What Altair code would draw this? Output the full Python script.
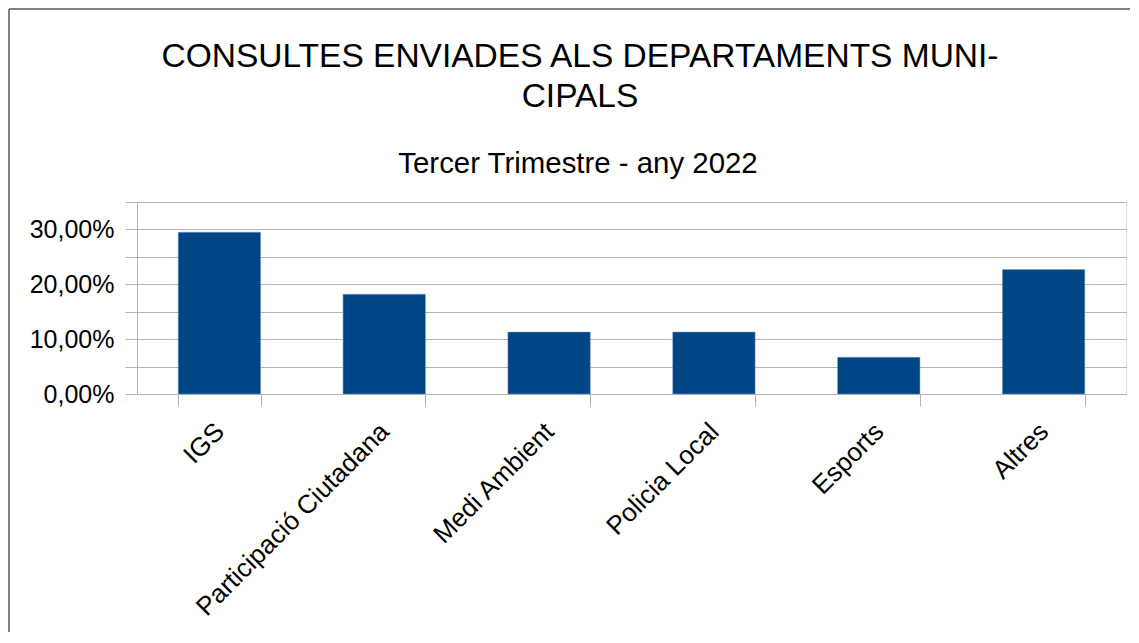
import altair as alt
import pandas as pd

categories = ["IGS", "Participació Ciutadana", "Medi Ambient", "Policia Local", "Esports", "Altres"]
values = [0.295, 0.182, 0.113, 0.113, 0.067, 0.227]
y_ticks = [0, 0.05, 0.10, 0.15, 0.20, 0.25, 0.30, 0.35]
title_lines = ["CONSULTES ENVIADES ALS DEPARTAMENTS MUNI-", "CIPALS"]
subtitle = "Tercer Trimestre - any 2022"

df = pd.DataFrame({"categoria": categories, "valor": values})

FONT = "Liberation Sans"
GRID = "#b3b3b3"
BORDER = "#7f7f7f"
W, H = 989, 192
PAD_L, PAD_T, PAD_R, PAD_B = 129, 194, 4, 238
TITLE_X = 443

bars = alt.Chart(df).mark_bar(color="#004586", stroke="#7fa2c2", strokeWidth=0.5).encode(
    x=alt.X(
        "categoria:N",
        sort=categories,
        title=None,
        scale=alt.Scale(paddingInner=0.5, paddingOuter=0.25),
        axis=alt.Axis(
            labelAngle=-45,
            labelFontSize=26,
            labelFont=FONT,
            labelColor="#000000",
            labelPadding=12,
            labelOffset=-9,
            tickBand="extent",
            tickSize=12,
            tickColor=GRID,
            domainColor=GRID,
            labelLimit=400,
            grid=False,
        ),
    ),
    y=alt.Y(
        "valor:Q",
        title=None,
        scale=alt.Scale(domain=[0, 0.35], nice=False),
        axis=alt.Axis(
            values=y_ticks,
            labelExpr="round(datum.value*100) % 10 == 0 ? replace(format(datum.value, '.2%'), '.', ',') : ''",
            labelFontSize=25,
            labelFont=FONT,
            labelColor="#000000",
            labelPadding=11,
            tickSize=12,
            tickColor=GRID,
            domainColor=GRID,
            gridColor=GRID,
            labelFlush=False,
            labelOverlap=False,
        ),
    ),
)

one = alt.Data(values=[{}])

title1 = alt.Chart(one).mark_text(
    text=title_lines[0], font=FONT, fontSize=33.5, color="#000000", align="center", baseline="alphabetic"
).encode(x=alt.value(TITLE_X), y=alt.value(-135))
title2 = alt.Chart(one).mark_text(
    text=title_lines[1], font=FONT, fontSize=33.5, color="#000000", align="center", baseline="alphabetic"
).encode(x=alt.value(TITLE_X), y=alt.value(-95))
sub = alt.Chart(one).mark_text(
    text=subtitle, font=FONT, fontSize=29.4, color="#000000", align="center", baseline="alphabetic"
).encode(x=alt.value(TITLE_X - 2), y=alt.value(-29))

left_border = alt.Chart(one).mark_rule(color=BORDER, strokeWidth=2).encode(
    x=alt.value(-PAD_L + 1), y=alt.value(-PAD_T + 1), y2=alt.value(H + PAD_B)
)
top_border = alt.Chart(one).mark_rule(color=BORDER, strokeWidth=2).encode(
    y=alt.value(-PAD_T + 1), x=alt.value(-PAD_L + 1), x2=alt.value(W + PAD_R)
)

chart = alt.layer(bars, title1, title2, sub, left_border, top_border).properties(
    width=W,
    height=H,
    padding={"left": PAD_L, "top": PAD_T, "right": PAD_R, "bottom": PAD_B},
    autosize=alt.AutoSizeParams(type="none"),
).configure_view(stroke=GRID).configure(background="white")

chart.save("out.html", embed_options={"renderer": "svg", "actions": False})
